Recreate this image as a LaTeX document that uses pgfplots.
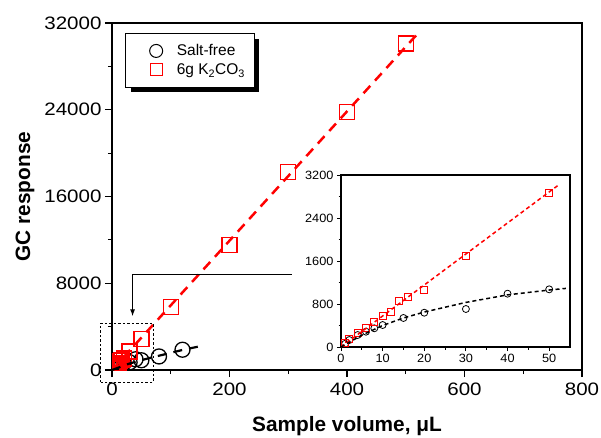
\documentclass[border=0pt]{standalone}
\usepackage{fontspec}
\setmainfont{Liberation Sans}
\newfontfamily\tickfont[FakeStretch=1.14]{Liberation Sans}
\newfontfamily\smalltickfont[FakeStretch=1.06]{Liberation Sans}
\usepackage{pgfplots}
\pgfplotsset{compat=1.18}
\usetikzlibrary{shadows,arrows.meta}

\pgfplotsset{
  mylegcirc/.style={legend image code/.code={\path (0pt,0pt) (41pt,0pt); \draw[##1, mark size=6.5pt, line width=1pt] plot coordinates {(23pt,0pt)};}},
  mylegsq/.style={legend image code/.code={\path (0pt,0pt) (41pt,0pt); \draw[##1, mark size=6pt, line width=1pt] plot coordinates {(23pt,0pt)};}},
}

\pgfplotstableread{
x y
1 80
2 140
4 255
6 360
8 465
10 570
12 660
14 860
16 935
20 1065
30 1700
50 2870
100 5800
200 11500
300 18250
400 23800
500 30100
}\mainred

\pgfplotstableread{
x y
1 55
2 120
4 215
6 290
8 350
10 410
15 545
20 640
30 710
40 990
50 900
80 1250
120 1870
}\mainblack

\pgfplotstableread{
x y
1 80
2 143
4 255
6 360
8 465
10 570
12 657
14 862
16 936
20 1067
30 1699
50 2871
}\insetred

\pgfplotstableread{
x y
1 60
2 130
4 223
6 285
8 348
10 409
15 540
20 638
30 707
40 992
50 1073
}\insetblack

\begin{document}
\begin{tikzpicture}[x=1pt,y=1pt]
\useasboundingbox (0,0) rectangle (601,437);
\begin{axis}[
  at={(112pt,67pt)}, anchor=south west, scale only axis,
  width=470pt, height=347pt,
  xmin=0, xmax=800, ymin=0, ymax=32000,
  xtick={0,200,...,800}, ytick={0,8000,...,32000},
  minor xtick={100,300,500,700}, minor ytick={4000,12000,20000,28000},
  tick align=outside, xtick pos=left, ytick pos=left,
  major tick length=7pt, minor tick length=4pt,
  every tick/.style={black, line width=1.2pt},
  axis line style={line width=1.5pt},
  scaled ticks=false,
  /pgf/number format/set thousands separator={},
  /pgf/number format/assume math mode=true,
  tick label style={font=\tickfont\fontsize{18}{20}\selectfont},
  xticklabel style={yshift=-2pt},
  xlabel={Sample volume, μL}, ylabel={GC response},
  label style={font=\fontsize{20.8}{23}\selectfont\bfseries},
  xlabel style={at={(axis description cs:0.5,-0.176)}, anchor=base},
  ylabel style={at={(axis description cs:-0.185,0.5)}, anchor=center},
  clip marker paths=true,
  legend style={at={(axis description cs:0.0277,0.971)}, anchor=north west,
    draw=black, line width=1pt, fill=white,
    drop shadow={shadow xshift=5pt, shadow yshift=-5pt, fill=black, opacity=1},
    font=\fontsize{15.5}{17}\selectfont, row sep=2.5pt,
    inner xsep=7pt, inner ysep=9pt},
  legend cell align=left,
]
\addplot[only marks, mark=o, mark size=7.5pt, line width=1.3pt, black, mylegcirc] table {\mainblack};
\addlegendentry{Salt-free}
\addplot[only marks, mark=square, mark size=7.5pt, line width=1.3pt, red, mylegsq] table {\mainred};
\addlegendentry{6g K\textsubscript{2}CO\textsubscript{3}}
\addplot[forget plot, red, line width=2.5pt, dash pattern=on 10pt off 7pt] coordinates {(0,0) (520,31000)};
\addplot[forget plot, black, line width=2.2pt, dash pattern=on 9pt off 7pt] coordinates {(0,0) (30,600) (60,1050) (90,1450) (120,1850) (155,2250)};
\coordinate (A1) at (axis cs:306,8853);
\coordinate (A2) at (axis cs:35,8853);
\coordinate (A3) at (axis cs:35,4950);
\coordinate (B1) at (axis cs:-19,-1107);
\coordinate (B2) at (axis cs:70,4334);
\end{axis}
\draw[-{Latex[length=7pt,width=5pt]}, line width=1pt] (A1) -- (A2) -- (A3);
\draw[dash pattern=on 2.5pt off 2pt, line width=1pt] (B1) rectangle (B2);

\begin{axis}[
  at={(341pt,90pt)}, anchor=south west, scale only axis,
  width=229pt, height=172pt,
  xmin=0, xmax=55, ymin=0, ymax=3200,
  xtick={0,10,...,50}, ytick={0,800,...,3200},
  minor xtick={5,15,25,35,45}, minor ytick={400,1200,2000,2800},
  tick align=outside, xtick pos=left, ytick pos=left,
  major tick length=4pt, minor tick length=2.5pt,
  every tick/.style={black, line width=0.9pt},
  axis line style={line width=1.1pt},
  axis background/.style={fill=white},
  scaled ticks=false,
  /pgf/number format/set thousands separator={},
  /pgf/number format/assume math mode=true,
  tick label style={font=\smalltickfont\fontsize{12}{14}\selectfont},
  clip marker paths=true,
]
\addplot[only marks, mark=o, mark size=3.5pt, line width=0.8pt, black] table {\insetblack};
\addplot[only marks, mark=square, mark size=3.5pt, line width=0.8pt, red] table {\insetred};
\addplot[red, line width=1.5pt, dash pattern=on 4pt off 3pt] coordinates {(0,0) (52,3000)};
\addplot[black, line width=1.5pt, dash pattern=on 4pt off 3pt] coordinates {(0,0) (5,220) (10,400) (15,540) (20,650) (30,830) (40,970) (50,1060) (54,1090)};
\end{axis}
\end{tikzpicture}
\end{document}
